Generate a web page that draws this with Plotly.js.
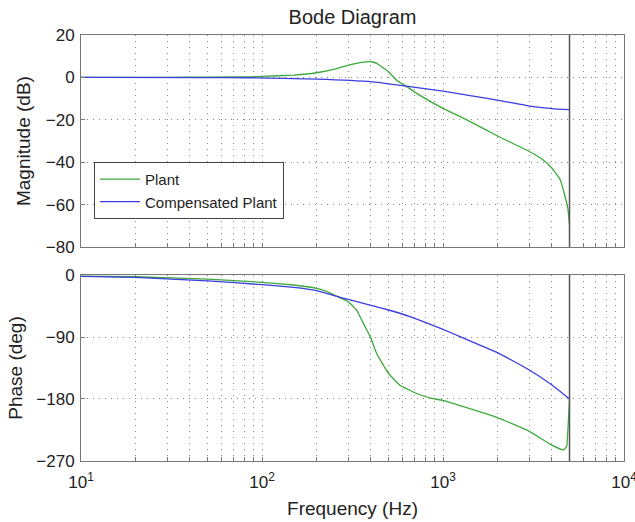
<!DOCTYPE html>
<html>
<head>
<meta charset="utf-8">
<script src="https://cdn.plot.ly/plotly-3.0.1.min.js"></script>
<style>html,body{margin:0;padding:0;background:#fff}#chart{width:635px;height:522px}</style>
</head>
<body>
<div id="chart"></div>
<script>
// ---- data ----
const plantMagFreq = [10, 30, 50, 86, 100, 150, 200, 259, 300, 348, 400, 430, 500, 554, 625, 715, 1000, 1352, 2000, 3000, 3580, 4000, 4430, 4720, 4900, 5000];
const plantMag     = [0, 0.05, 0.15, 0.3, 0.5, 1.1, 2.2, 4.2, 5.8, 7.0, 7.4, 6.6, 2.7, -1.3, -4.1, -7.5, -14.6, -20, -27.6, -34.9, -38.9, -42.8, -48, -56, -62, -69.4];

const compMagFreq = [10, 50, 86, 200, 400, 625, 1000, 2000, 3000, 4000, 5000];
const compMag     = [0, -0.05, -0.15, -0.8, -2.0, -4.1, -6.5, -10.7, -13.5, -14.7, -15.2];

const plantPhaseFreq = [10, 20, 50, 100, 150, 200, 227, 262, 300, 333, 371, 400, 430, 500, 578, 715, 865, 1000, 2000, 3000, 4000, 4620, 4820, 4910, 5000];
const plantPhase     = [-1.5, -2.5, -6, -10.6, -14.5, -19.4, -23.7, -31.5, -38.7, -51, -75, -92, -114, -143, -160, -172, -179, -182, -207, -227, -247, -254, -249, -220, -181];

const compPhaseFreq = [10, 20, 50, 100, 150, 200, 262, 300, 400, 500, 658, 1000, 1242, 2000, 3000, 4000, 5000];
const compPhase     = [-2, -3.5, -8.5, -14, -17.9, -22.7, -31.5, -35.3, -44, -50.8, -60.5, -78.9, -89.5, -112.7, -137.9, -159.7, -180];

const nyquistHz = 5000;
const decades = [10, 100, 1000, 10000];
const decadeLabels = ['10<sup>1</sup>', '10<sup>2</sup>', '10<sup>3</sup>', '10<sup>4</sup>'];
const magTicks = [20, 0, -20, -40, -60, -80];
const phaseTicks = [0, -90, -180, -270];
const seriesNames = ['Plant', 'Compensated Plant'];

// ---- build ----
const green = 'rgb(60,170,60)';
const blue = 'rgb(60,60,225)';
const font = 'Liberation Sans, Arial, sans-serif';

// grid positions at every 1..9 x decade
const gridVals = [], gridText = [];
decades.forEach((d, i) => {
  for (let k = 1; k <= 9; k++) {
    const v = d * k;
    if (v > 10000) break;
    gridVals.push(v);
    gridText.push(k === 1 ? decadeLabels[i] : '');
  }
});

const lineStyle = c => ({color: c, width: 1.3, shape: 'spline', smoothing: 0.3});
const traces = [
  {x: plantMagFreq, y: plantMag, name: seriesNames[0], type: 'scatter', mode: 'lines',
   line: lineStyle(green), xaxis: 'x', yaxis: 'y'},
  {x: compMagFreq, y: compMag, name: seriesNames[1], type: 'scatter', mode: 'lines',
   line: lineStyle(blue), xaxis: 'x', yaxis: 'y'},
  {x: plantPhaseFreq, y: plantPhase, name: seriesNames[0], showlegend: false, type: 'scatter', mode: 'lines',
   line: lineStyle(green), xaxis: 'x2', yaxis: 'y2'},
  {x: compPhaseFreq, y: compPhase, name: seriesNames[1], showlegend: false, type: 'scatter', mode: 'lines',
   line: lineStyle(blue), xaxis: 'x2', yaxis: 'y2'}
];

const frame = '#777';
const gridC = '#8a8a8a';
const dash = '1px,5px';

const xCommon = {
  type: 'log', range: [1, 4], tickmode: 'array', tickvals: gridVals, ticktext: gridText,
  tickangle: 0,
  showgrid: true, gridcolor: gridC, griddash: dash, gridwidth: 1,
  showline: true, mirror: true, linecolor: frame, linewidth: 1,
  ticks: 'inside', ticklen: 4, tickcolor: frame, zeroline: false,
  ticklabeloverflow: 'allow',
  tickfont: {family: font, size: 17, color: '#222'}
};

const layout = {
  width: 635, height: 522,
  margin: {l: 81, r: 11, t: 35, b: 61},
  paper_bgcolor: '#fff', plot_bgcolor: '#fff',
  font: {family: font, color: '#222'},
  title: {text: 'Bode Diagram', font: {family: font, size: 20, color: '#222'},
          x: 0.5, xref: 'paper', xanchor: 'center', y: 0.968, yref: 'container', yanchor: 'middle'},
  xaxis: Object.assign({}, xCommon, {anchor: 'y', showticklabels: false, domain: [0, 1]}),
  xaxis2: Object.assign({}, xCommon, {anchor: 'y2', domain: [0, 1], ticklabelstandoff: 6,
    title: {text: 'Frequency (Hz)', font: {family: font, size: 19, color: '#222'}, standoff: 10}}),
  yaxis: {domain: [0.502, 1], range: [-80, 20], tickmode: 'array', tickvals: magTicks,
    showgrid: true, gridcolor: gridC, griddash: dash, zeroline: false,
    showline: true, mirror: true, linecolor: frame, linewidth: 1,
    ticks: 'inside', ticklen: 4, tickcolor: frame, ticklabelstandoff: 2,
    tickfont: {family: font, size: 17, color: '#222'},
    title: {text: 'Magnitude (dB)', font: {family: font, size: 19, color: '#222'}, standoff: 10}},
  yaxis2: {domain: [0, 0.4366], range: [-270, 0], tickmode: 'array', tickvals: phaseTicks,
    showgrid: true, gridcolor: gridC, griddash: dash, zeroline: false,
    showline: true, mirror: true, linecolor: frame, linewidth: 1,
    ticks: 'inside', ticklen: 4, tickcolor: frame, ticklabelstandoff: 2,
    tickfont: {family: font, size: 17, color: '#222'},
    title: {text: 'Phase (deg)', font: {family: font, size: 19, color: '#222'}, standoff: 8}},
  legend: {x: 0.024, y: 0.702, xanchor: 'left', yanchor: 'top', bgcolor: '#fff',
    bordercolor: '#444', borderwidth: 1, font: {family: font, size: 15, color: '#222'},
    itemwidth: 40, tracegroupgap: 0},
  shapes: [
    {type: 'line', xref: 'x', yref: 'y domain', x0: nyquistHz, x1: nyquistHz, y0: 0, y1: 1,
     line: {color: '#555', width: 1.5}},
    {type: 'line', xref: 'x2', yref: 'y2 domain', x0: nyquistHz, x1: nyquistHz, y0: 0, y1: 1,
     line: {color: '#555', width: 1.5}}
  ],
  showlegend: true
};

Plotly.newPlot('chart', traces, layout, {staticPlot: true, displayModeBar: false});
</script>
</body>
</html>
